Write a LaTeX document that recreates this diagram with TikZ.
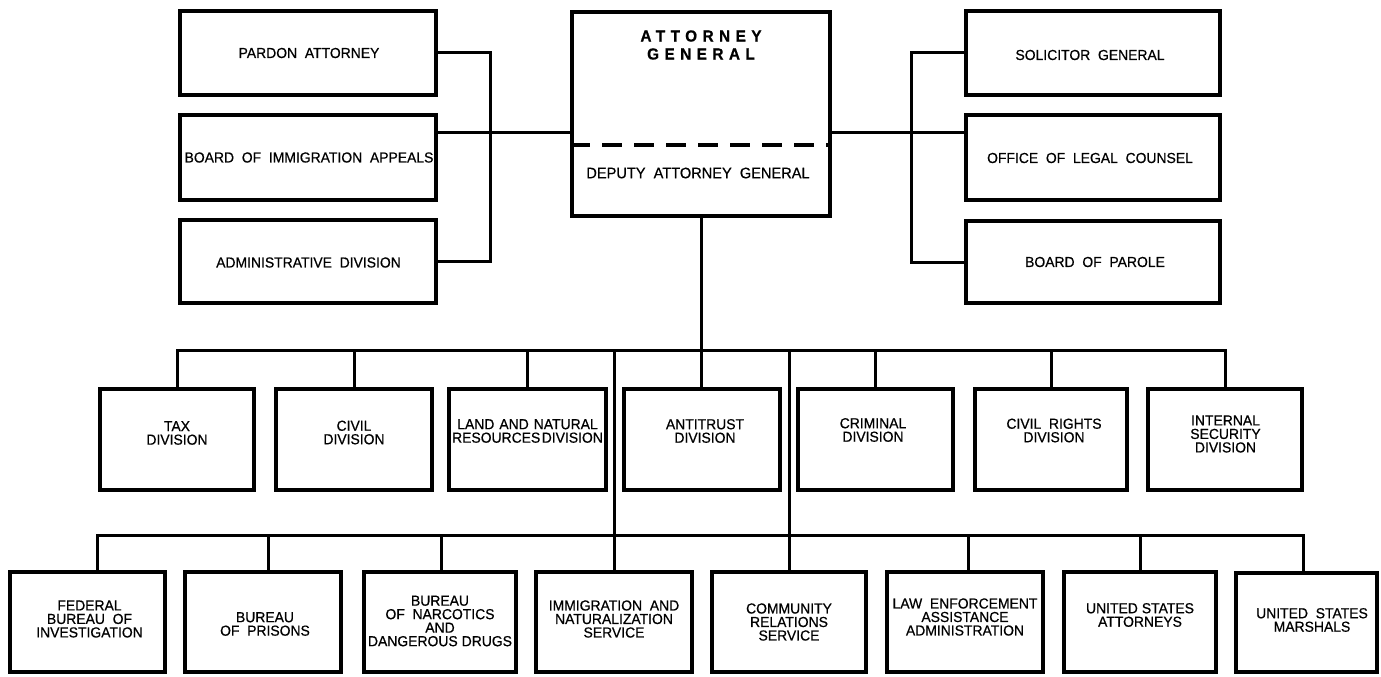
\documentclass[tikz,border=0pt]{standalone}
\usepackage{fontspec}
\setmainfont{Liberation Sans}[FakeStretch=0.96, WordSpace=2.0, FakeBold=0.6]
\begin{document}
\begin{tikzpicture}[x=1pt,y=-1pt,
  box/.style={draw, line width=4pt, inner sep=0pt, minimum width=#1},
  conn/.style={line width=3pt},
  lbl/.style={inner sep=0pt, align=center, font=\fontsize{14.5}{13.5}\selectfont},
  toplbl/.style={inner sep=0pt, align=center, font=\fontsize{14.5}{15}\selectfont}]
\useasboundingbox (0,0) rectangle (1381,677);
% ---- top boxes
\node[box=256, minimum height=84] (pa)  at (308,53) {};
\node[box=256, minimum height=85] (bia) at (308,157.5) {};
\node[box=256, minimum height=83] (adm) at (308,261.5) {};
\node[box=258, minimum height=204] (ag) at (701,114) {};
\node[box=254, minimum height=84] (sg)  at (1093,53) {};
\node[box=254, minimum height=85] (olc) at (1093,157.5) {};
\node[box=254, minimum height=82] (bop) at (1093,262) {};
% ---- row 1
\node[box=154, minimum height=101] (tax) at (177,439.5) {};
\node[box=156, minimum height=101] (civ) at (354,439.5) {};
\node[box=157, minimum height=101] (lnr) at (527.5,439.5) {};
\node[box=156, minimum height=101] (ant) at (702,439.5) {};
\node[box=155, minimum height=101] (cri) at (875.5,439.5) {};
\node[box=152, minimum height=101] (crt) at (1051,439.5) {};
\node[box=154, minimum height=101] (isd) at (1225,439.5) {};
% ---- row 2
\node[box=155, minimum height=100] (fbi) at (87.5,622) {};
\node[box=156, minimum height=100] (bpr) at (263,622) {};
\node[box=152, minimum height=100] (bnd) at (440,622) {};
\node[box=156, minimum height=100] (ins) at (614,622) {};
\node[box=154, minimum height=100] (crs) at (789,622) {};
\node[box=156, minimum height=100] (lea) at (965,622) {};
\node[box=152, minimum height=100] (usa) at (1140,622) {};
\node[box=141, minimum height=99] (usm) at (1306.5,622.5) {};
% ---- dashed divider in AG box
\coordinate (dl) at (0,145);
\draw[line width=4pt, dash pattern=on 20pt off 12pt] (ag.west |- dl) -- (ag.east |- dl);
% ---- labels
\node[toplbl] (pa-t)  at (309,53) {PARDON ATTORNEY};
\node[toplbl] (bia-t) at (309,157.5) {BOARD OF IMMIGRATION APPEALS};
\node[toplbl] (adm-t) at (308.5,262.5) {ADMINISTRATIVE DIVISION};
\node[inner sep=0pt, align=center, font=\fontsize{16}{18}\selectfont\bfseries\addfontfeature{LetterSpace=34}] (ag-t) at (701,45) {ATTORNEY\\GENERAL};
\node[inner sep=0pt, font=\fontsize{15.2}{15.2}\selectfont] (dag-t) at (698,173) {DEPUTY ATTORNEY GENERAL};
\node[toplbl] (sg-t)  at (1090,55) {SOLICITOR GENERAL};
\node[toplbl] (olc-t) at (1090,158) {OFFICE OF LEGAL COUNSEL};
\node[toplbl] (bop-t) at (1095,262) {BOARD OF PAROLE};
\node[lbl] (tax-t) at (177,433) {TAX\\DIVISION};
\node[lbl] (civ-t) at (354,432.5) {CIVIL\\DIVISION};
\node[lbl] (lnr-t) at (527.5,431) {LAND\hspace{5pt}AND\hspace{5pt}NATURAL\\RESOURCES\hspace{1.5pt}DIVISION};
\node[lbl] (ant-t) at (705,431) {ANTITRUST\\DIVISION};
\node[lbl] (cri-t) at (873,430) {CRIMINAL\\DIVISION};
\node[lbl] (crt-t) at (1054,430.5) {CIVIL RIGHTS\\DIVISION};
\node[lbl] (isd-t) at (1225.5,434) {INTERNAL\\SECURITY\\DIVISION};
\node[lbl] (fbi-t) at (89.5,619) {FEDERAL\\BUREAU OF\\INVESTIGATION};
\node[lbl] (bpr-t) at (265,624) {BUREAU\\OF PRISONS};
\node[lbl] (bnd-t) at (440,621) {BUREAU\\OF NARCOTICS\\AND\\DANGEROUS\hspace{4pt}DRUGS};
\node[lbl] (ins-t) at (614,619) {IMMIGRATION AND\\NATURALIZATION\\SERVICE};
\node[lbl] (crs-t) at (789,622) {COMMUNITY\\RELATIONS\\SERVICE};
\node[lbl] (lea-t) at (965,617) {LAW ENFORCEMENT\\ASSISTANCE\\ADMINISTRATION};
\node[lbl] (usa-t) at (1140,615) {UNITED\hspace{4pt}STATES\\ATTORNEYS};
\node[lbl] (usm-t) at (1312,620) {UNITED STATES\\MARSHALS};
% ---- connectors, top
\coordinate (hl) at (0,132.5);
\coordinate (vl) at (490,0);
\coordinate (vr) at (911,0);
\draw[conn] (pa.east) -| (vl |- adm.east) -- (adm.east);
\draw[conn] (bia.east |- hl) -- (ag.west |- hl);
\draw[conn] (sg.west) -| (vr |- bop.west) -- (bop.west);
\draw[conn] (ag.east |- hl) -- (olc.west |- hl);
% ---- connectors, rows
\coordinate (b1) at (0,350);
\coordinate (b2) at (0,535);
\draw[conn] (ag.south) -- (ag.south |- ant.north);
\draw[conn] (tax.north) -- (tax.north |- b1) -- (isd.north |- b1) -- (isd.north);
\foreach \n in {civ,lnr,cri,crt} \draw[conn] (\n.north |- b1) -- (\n.north);
\draw[conn] (ins.north |- b1) -- (ins.north);
\draw[conn] (crs.north |- b1) -- (crs.north);
\draw[conn] ([xshift=10pt]fbi.north) -- ([xshift=10pt]fbi.north |- b2) -- ([xshift=-3.5pt]usm.north |- b2) -- ([xshift=-3.5pt]usm.north);
\draw[conn] ([xshift=5pt]bpr.north |- b2) -- ([xshift=5pt]bpr.north);
\draw[conn] ([xshift=1pt]bnd.north |- b2) -- ([xshift=1pt]bnd.north);
\draw[conn] ([xshift=3pt]lea.north |- b2) -- ([xshift=3pt]lea.north);
\draw[conn] (usa.north |- b2) -- (usa.north);
\end{tikzpicture}
\end{document}
